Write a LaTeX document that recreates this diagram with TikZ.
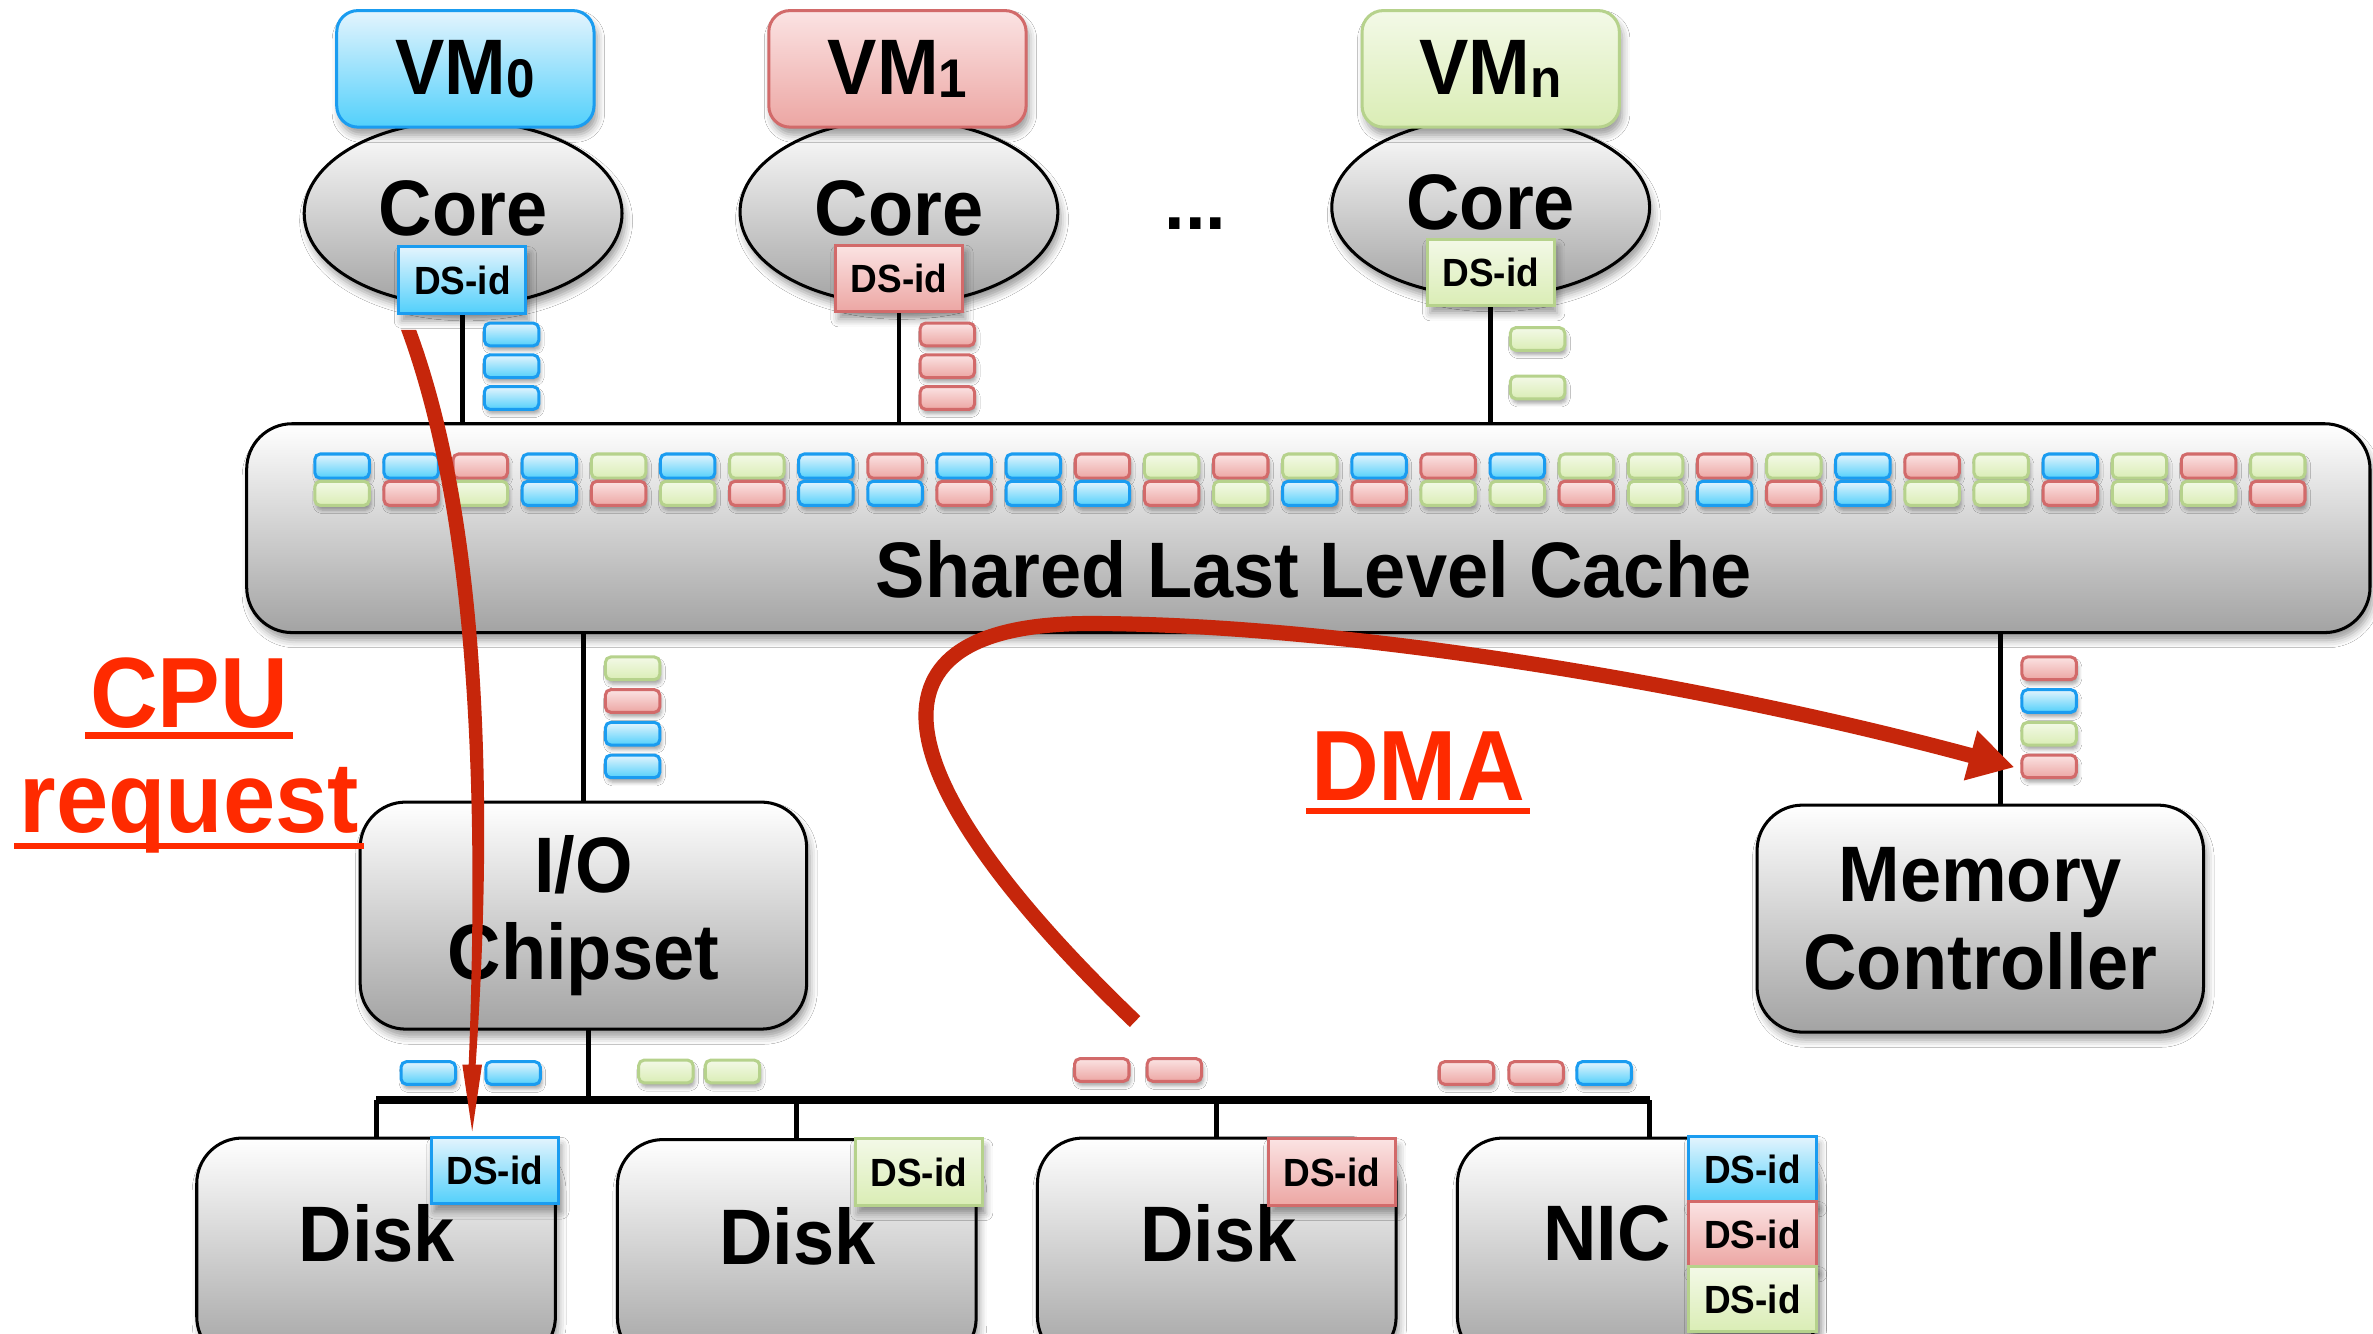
\documentclass[tikz,border=0pt]{standalone}
\usepackage{fontspec}
\setmainfont{Liberation Sans}[FakeStretch=0.94]
\usetikzlibrary{arrows.meta,shadows.blur,shapes.geometric,calc}

\definecolor{bluetop}{HTML}{E4F4FD}
\definecolor{bluebot}{HTML}{52D0FB}
\definecolor{blueline}{HTML}{1A9CF0}
\definecolor{redtop}{HTML}{FBE3E3}
\definecolor{redbot}{HTML}{ECA6A3}
\definecolor{redline}{HTML}{D26A6A}
\definecolor{grntop}{HTML}{F3F9E7}
\definecolor{grnbot}{HTML}{DAEDB5}
\definecolor{grnline}{HTML}{B6D28C}
\definecolor{graybot}{HTML}{A3A3A3}
\definecolor{arrowred}{HTML}{C6260B}
\definecolor{labelred}{HTML}{FF2A00}

\newcommand\bigfont{\bfseries\fontsize{26}{29}\selectfont}
\newcommand\dsfont{\bfseries\fontsize{13}{15}\selectfont}
\newcommand\redfont{\bfseries\fontsize{33}{36}\selectfont}
\newcommand\vmsub[1]{\raisebox{-1pt}{\fontsize{18}{18}\selectfont #1}}

\tikzset{
  x=0.5pt, y=-0.5pt,
  shd/.style={blur shadow={shadow xshift=1pt, shadow yshift=-2.5pt,
      shadow blur radius=2.5pt, shadow opacity=40}},
  pB/.style={draw=blueline, top color=bluetop, bottom color=bluebot},
  pR/.style={draw=redline, top color=redtop, bottom color=redbot},
  pG/.style={draw=grnline, top color=grntop, bottom color=grnbot},
  grayfill/.style={draw=black, top color=white, bottom color=graybot},
  vmbox/.style={shd, line width=1pt, rounded corners=7pt, minimum width=85pt,
      minimum height=38.5pt, inner sep=0pt, font=\bigfont},
  core/.style={ellipse, shd, grayfill, line width=1pt, minimum width=105pt,
      minimum height=61pt, inner sep=0pt},
  gbox/.style={shd, grayfill, line width=1pt, rounded corners=15pt,
      inner sep=0pt, align=center, font=\bigfont},
  lbl/.style={inner sep=0pt, font=\bigfont},
  dsid/.style={shd, line width=1pt, minimum width=42pt, minimum height=22pt,
      inner sep=0pt, font=\dsfont},
  pkt/.style={line width=1pt, rounded corners=1.8pt, minimum width=18pt,
      minimum height=7.5pt, inner sep=0pt,
      blur shadow={shadow xshift=0.6pt, shadow yshift=-1.5pt,
      shadow blur radius=1.2pt, shadow opacity=35}},
  conn/.style={line width=1.6pt, draw=black},
  busmain/.style={line width=2.6pt, draw=black, line cap=square},
  redlbl/.style={inner xsep=1.5pt, inner ysep=0pt, font=\redfont, text=labelred},
  ul/.style={draw=labelred, line width=2pt},
  dmaarrow/.style={draw=arrowred, line width=5pt, -{Triangle[length=15pt,width=16pt]}},
}

\begin{document}
\begin{tikzpicture}
\fill[white] (0,0) rectangle (1568,881);
\useasboundingbox (0,0) rectangle (1568,881);

% ---- cores and virtual machines ----
\node[core] (c0) at (306,141) {};
\node[core] (c1) at (594,140) {};
\node[core, minimum height=59pt] (cn) at (985,137) {};
\node[lbl] (c0t) at (306,138) {Core};
\node[lbl] (c1t) at (594,138) {Core};
\node[lbl] (cnt) at (985,134) {Core};

\node[vmbox, pB] (vm0) at (307.5,45.5) {VM\vmsub{0}};
\node[vmbox, pR] (vm1) at (593,45.5) {VM\vmsub{1}};
\node[vmbox, pG] (vmn) at (985,45.5) {VM\vmsub{n}};

\node[dsid, pB] (ds0) at (305.5,185) {DS-id};
\node[dsid, pR] (ds1) at (594,184) {DS-id};
\node[dsid, pG] (dsn) at (985,180) {DS-id};

\node[lbl] (dots) at (790,148) {...};

% ---- shared cache ----
\node[gbox, minimum width=701.5pt, minimum height=69pt] (cache) at (864.5,349) {};
\node[lbl] (cachet) at (868,376) {Shared Last Level Cache};

\foreach \c [count=\i from 0] in {pB,pB,pR,pB,pG,pB,pG,pB,pR,pB,pB,pR,pG,pR,pG,pB,pR,pB,pG,pG,pR,pG,pB,pR,pG,pB,pG,pR,pG}
  \node[pkt, \c, minimum height=8pt] (ct\i) at ({226+45.68*\i},308) {};
\foreach \c [count=\i from 0] in {pG,pR,pG,pB,pR,pG,pR,pB,pB,pR,pB,pB,pR,pG,pB,pR,pG,pG,pR,pG,pB,pR,pB,pG,pG,pR,pG,pG,pR}
  \node[pkt, \c, minimum height=8pt] (cb\i) at ({226+45.68*\i},326) {};

% ---- packets travelling from the cores ----
\foreach \y [count=\i] in {221,242,263} {
  \node[pkt, pB] (q0\i) at (338,\y) {};
  \node[pkt, pR] (q1\i) at (626,\y) {};
}
\node[pkt, pG] (qn1) at (1016,224) {};
\node[pkt, pG] (qn2) at (1016,256) {};

% ---- I/O chipset and memory controller ----
\node[gbox, minimum width=147.5pt, minimum height=75pt] (io) at (385.5,605) {I/O\\Chipset};
\node[gbox, minimum width=147.5pt, minimum height=75pt] (mc) at (1308.5,607) {Memory\\Controller};

\foreach \c [count=\i] in {pG,pR,pB,pB}
  \node[pkt, \c] (qio\i) at (418,{420+21.6*\i}) {};
\foreach \c [count=\i] in {pR,pB,pG,pR}
  \node[pkt, \c] (qmc\i) at (1354,{420+21.6*\i}) {};

% ---- devices ----
\node[gbox, minimum width=118.5pt, minimum height=74pt] (d1) at (248.5,826) {};
\node[gbox, minimum width=118.5pt, minimum height=74pt] (d2) at (526.5,827) {};
\node[gbox, minimum width=118.5pt, minimum height=74pt] (d3) at (804,826) {};
\node[gbox, minimum width=118.5pt, minimum height=74pt] (nic) at (1081.5,826) {};
\node[lbl] (d1t) at (249,815) {Disk};
\node[lbl] (d2t) at (527,817) {Disk};
\node[lbl] (d3t) at (805,815) {Disk};
\node[lbl] (nict) at (1062,815) {NIC};

\node[dsid, pB] (dsd1) at (327,773.5) {DS-id};
\node[dsid, pG] (dsd2) at (607,774.5) {DS-id};
\node[dsid, pR] (dsd3) at (880,774.5) {DS-id};
\node[dsid, pB, minimum height=21.5pt] (dsnA) at (1158,772.5) {DS-id};
\node[dsid, pR, minimum height=21.5pt] (dsnB) at (1158,815.5) {DS-id};
\node[dsid, pG, minimum height=21.5pt] (dsnC) at (1158,858.5) {DS-id};

% packets on the I/O bus
\node[pkt, pB] (bq1) at (283,709) {};
\node[pkt, pB] (bq2) at (339,709) {};
\node[pkt, pG] (bq3) at (440,708) {};
\node[pkt, pG] (bq4) at (484,708) {};
\node[pkt, pR] (bq5) at (728,707) {};
\node[pkt, pR] (bq6) at (776,707) {};
\node[pkt, pR] (bq7) at (969,709) {};
\node[pkt, pR] (bq8) at (1015,709) {};
\node[pkt, pB] (bq9) at (1060,709) {};

% ---- wiring ----
\draw[conn] (ds0.south) -- (ds0.south |- cache.north);
\draw[conn] (ds1.south) -- (ds1.south |- cache.north);
\draw[conn] (dsn.south) -- (dsn.south |- cache.north);
\draw[conn] (io.north) -- (io.north |- cache.south);
\coordinate (mcin) at (1322,532);
\draw[conn] (mcin) -- (mcin |- cache.south);

\coordinate (busrow) at (0,727);
\coordinate (iobot) at (389,680);
\coordinate (nicin) at (1090,752);
\draw[busmain] (d1.north |- busrow) -- (nicin |- busrow);
\draw[conn] (iobot) -- (iobot |- busrow);
\draw[conn] (d1.north) -- (d1.north |- busrow);
\draw[conn] (d2.north) -- (d2.north |- busrow);
\draw[conn] (d3.north) -- (d3.north |- busrow);
\draw[conn] (nicin) -- (nicin |- busrow);

% ---- labels ----
\node[redlbl, anchor=base] (cpu) at (125,481) {CPU};
\node[redlbl, anchor=base] (req) at (125,550) {request};
\node[redlbl, anchor=base] (dma) at (937,529) {DMA};
\draw[ul] ([yshift=-2.5pt]cpu.base west) -- ([yshift=-2.5pt]cpu.base east);
\draw[ul] ([yshift=-4.5pt]req.base west) -- ([yshift=-4.5pt]req.base east);
\draw[ul] ([yshift=-3.5pt]dma.base west) -- ([yshift=-3.5pt]dma.base east);

% ---- request paths ----
% CPU request: a stroke that narrows towards its head
\coordinate (cpus) at (270,218);
\coordinate (cputip) at ([xshift=-7.5pt,yshift=1.5pt]dsd1.north);
\fill[arrowred]
  ($(cpus)+(-5,0)$) .. controls ($(cpus)+(40,122)$) and ($(cputip)+(5,-228)$)
    .. ($(cputip)+(-2.3,-44)$)
  -- ($(cputip)+(-6.5,-44)$) -- (cputip) -- ($(cputip)+(6.5,-44)$)
  -- ($(cputip)+(2.3,-44)$)
    .. controls ($(cputip)+(15,-228)$) and ($(cpus)+(50,122)$) .. ($(cpus)+(5,0)$)
  -- cycle;
% DMA transfer
\coordinate (dmas) at (750,675);
\coordinate (dmae) at (1331,507);
\draw[dmaarrow] (dmas) .. controls (578,510) and (565,412) .. (720,412)
  .. controls (880,412) and (1120,450) .. (dmae);
\end{tikzpicture}
\end{document}
